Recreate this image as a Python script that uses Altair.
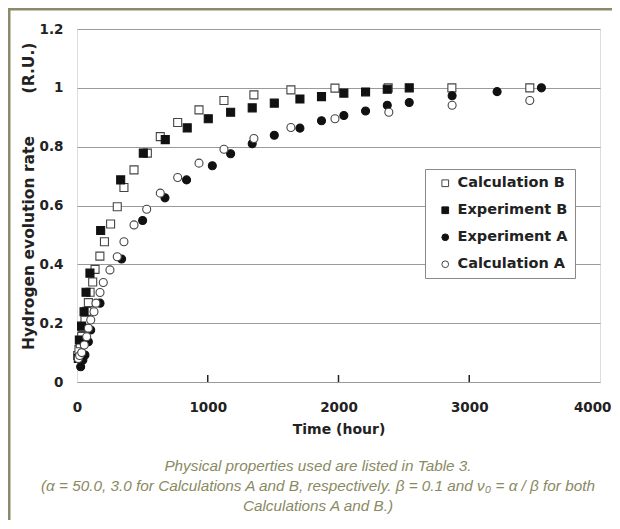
import altair as alt
import pandas as pd

# ---------------- data ----------------
series_order = ["Calculation B", "Experiment B", "Experiment A", "Calculation A"]

calc_b_t = [5, 15, 25, 36, 45, 61, 75, 87, 100, 120, 138, 175, 210, 257, 308, 359, 436, 538,
            637, 770, 933, 1124, 1353, 1636, 1973, 2380, 2867, 3463]
calc_b_v = [0.09, 0.11, 0.13, 0.155, 0.185, 0.21, 0.24, 0.27, 0.305, 0.34, 0.383, 0.428, 0.477,
            0.537, 0.596, 0.661, 0.721, 0.778, 0.834, 0.882, 0.925, 0.957, 0.976, 0.993, 0.999,
            1.0, 1.0, 1.0]

exp_b_t = [10, 18, 35, 54, 69, 99, 181, 334, 507, 675, 843, 1004, 1175, 1340, 1509, 1705, 1870,
           2041, 2207, 2373, 2541]
exp_b_v = [0.08, 0.143, 0.19, 0.239, 0.305, 0.37, 0.515, 0.687, 0.778, 0.824, 0.864, 0.895,
           0.917, 0.932, 0.948, 0.962, 0.970, 0.982, 0.986, 0.995, 1.0]

exp_a_t = [28, 45, 61, 87, 105, 176, 341, 502, 673, 838, 1035, 1175, 1340, 1509, 1705, 1870,
           2041, 2207, 2373, 2541, 2869, 3213, 3552]
exp_a_v = [0.052, 0.075, 0.092, 0.137, 0.177, 0.268, 0.418, 0.549, 0.626, 0.687, 0.735, 0.776,
           0.810, 0.839, 0.863, 0.888, 0.906, 0.921, 0.941, 0.950, 0.973, 0.987, 1.0]

calc_a_t = [10, 20, 36, 56, 74, 87, 105, 130, 145, 176, 201, 252, 308, 359, 436, 533, 637, 770,
            933, 1124, 1353, 1636, 1973, 2385, 2869, 3463]
calc_a_v = [0.08, 0.09, 0.1, 0.126, 0.154, 0.183, 0.211, 0.239, 0.268, 0.304, 0.338, 0.381,
            0.426, 0.477, 0.534, 0.587, 0.642, 0.695, 0.744, 0.791, 0.828, 0.865, 0.895, 0.917,
            0.941, 0.957]

x_ticks = [0, 1000, 2000, 3000, 4000]
y_ticks = [0, 0.2, 0.4, 0.6, 0.8, 1.0, 1.2]
inner_ticks = [1000, 2000, 3000]

y_title_main = "Hydrogen evolution rate"
y_title_unit = "(R.U.)"
x_title = "Time (hour)"

caption = [
    "Physical properties used are listed in Table 3.",
    "(\u03b1 = 50.0, 3.0 for Calculations A and B, respectively. \u03b2 = 0.1 and \u03bd\u2080 = \u03b1 / \u03b2 for both",
    "Calculations A and B.)",
]

# ---------------- build table ----------------
rows = []
for name, ts, vs in [("Calculation B", calc_b_t, calc_b_v),
                     ("Experiment B", exp_b_t, exp_b_v),
                     ("Experiment A", exp_a_t, exp_a_v),
                     ("Calculation A", calc_a_t, calc_a_v)]:
    for t, v in zip(ts, vs):
        rows.append({"series": name, "t": t, "v": v})
df = pd.DataFrame(rows)

W, H = 523, 353
FONT = "DejaVu Sans"
INK = "#222222"
TAN = "#8c8a6a"
CAP = "#8a8a62"

leg = alt.Legend(
    title=None, orient="none", legendX=348, legendY=140,
    fillColor="white", strokeColor="#888888", padding=7,
    labelFont=FONT, labelFontWeight="bold", labelFontSize=14.5, labelColor=INK,
    symbolSize=45, symbolStrokeWidth=1,
    symbolOffset=6, labelOffset=5, rowPadding=12,
)

x_enc = alt.X("t:Q", scale=alt.Scale(domain=[0, 4000], nice=False),
              axis=alt.Axis(values=x_ticks, format="d", title=x_title, grid=False,
                            ticks=False, tickSize=0, domain=False, labelFont=FONT,
                            labelFontWeight="bold", labelFontSize=13.5, labelColor=INK,
                            labelPadding=18, titleFont=FONT, titleFontWeight="bold",
                            titleFontSize=14, titleColor=INK, titlePadding=9, labelFlush=False,
                            labelAlign={"condition": {"test": "datum.value == 4000",
                                                      "value": "right"}, "value": "center"},
                            labelOffset={"condition": {"test": "datum.value == 4000",
                                                       "value": 11}, "value": 0}))
y_enc = alt.Y("v:Q", scale=alt.Scale(domain=[0, 1.2], nice=False),
              axis=alt.Axis(values=y_ticks, format="~g", title=None,
                            grid=True, gridColor="#9a9a9a", gridWidth=1.2, ticks=False,
                            tickSize=0, domain=False, labelFont=FONT, labelFontWeight="bold",
                            labelFontSize=13.5, labelColor=INK, labelPadding=14))

points = alt.Chart(df).mark_point(filled=True, size=64, strokeWidth=1.1, opacity=1).encode(
    x=x_enc,
    y=y_enc,
    shape=alt.Shape("series:N", scale=alt.Scale(domain=series_order,
                                                 range=["square", "square", "circle", "circle"]),
                    legend=leg),
    fill=alt.Fill("series:N", scale=alt.Scale(domain=series_order,
                                               range=["white", "#111111", "#111111", "white"]),
                  legend=leg),
    stroke=alt.Stroke("series:N", scale=alt.Scale(domain=series_order,
                                                   range=["#444444", "#111111", "#111111", "#444444"]),
                      legend=leg),
)

ticks = alt.Chart(pd.DataFrame({"t": inner_ticks})).mark_rule(color=INK, strokeWidth=1.5).encode(
    x="t:Q", y=alt.value(H), y2=alt.value(H - 7))

frame_df = pd.DataFrame({"k": [0]})
border_left = alt.Chart(frame_df).mark_rule(color=TAN, strokeWidth=3).encode(
    x=alt.value(-68), y=alt.value(-20), y2=alt.value(520))
border_top = alt.Chart(frame_df).mark_rule(color=TAN, strokeWidth=3).encode(
    x=alt.value(-69), x2=alt.value(560), y=alt.value(-20))

ytitle_main = alt.Chart(frame_df).mark_text(
    font=FONT, fontWeight="bold", fontSize=15.5, color=INK, angle=270,
    align="center", baseline="middle").encode(
    x=alt.value(-48), y=alt.value(214), text=alt.value(y_title_main))
ytitle_unit = alt.Chart(frame_df).mark_text(
    font=FONT, fontWeight="bold", fontSize=15.5, color=INK, angle=270,
    align="center", baseline="middle").encode(
    x=alt.value(-48), y=alt.value(39), text=alt.value(y_title_unit))

cap_layers = []
for i, line in enumerate(caption):
    cap_layers.append(
        alt.Chart(frame_df).mark_text(
            font="Liberation Sans Narrow, Liberation Sans, sans-serif", fontStyle="italic",
            fontSize=15.3, color=CAP, align="center", baseline="middle",
        ).encode(x=alt.value(241), y=alt.value(437 + 20 * i), text=alt.value(line))
    )

chart = alt.layer(ticks, points, border_left, border_top, ytitle_main, ytitle_unit,
                  *cap_layers).properties(
    width=W, height=H,
    autosize=alt.AutoSizeParams(type="none"),
    padding={"left": 69, "top": 21, "right": 12, "bottom": 138},
).configure_view(stroke=INK, strokeWidth=2).configure(background="white")

chart.save("out.html", embed_options={"renderer": "svg", "actions": False})
